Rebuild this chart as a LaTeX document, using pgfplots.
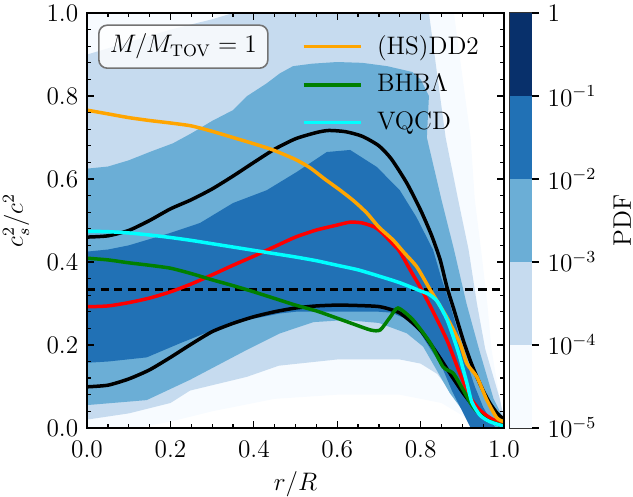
\documentclass[border=0pt,12pt]{standalone}
\usepackage{pgfplots}
\pgfplotsset{compat=1.18}
\definecolor{cA}{HTML}{F7FBFF}
\definecolor{cB}{HTML}{C6DBEF}
\definecolor{cC}{HTML}{6BAED6}
\definecolor{cD}{HTML}{2171B5}
\definecolor{cE}{HTML}{08306B}
\definecolor{mplorange}{HTML}{FFA500}
\definecolor{mplgreen}{HTML}{008000}
\definecolor{mplcyan}{HTML}{00FFFF}
\definecolor{mplred}{HTML}{FF0000}
\begin{document}
\begin{tikzpicture}
\begin{axis}[
  name=main, at={(0pt,0pt)}, anchor=south west,
  scale only axis, width=197.8pt, height=196.8pt,
  xmin=0, xmax=1, ymin=0, ymax=1,
  xtick={0,0.2,0.4,0.6,0.8,1.0}, ytick={0,0.2,0.4,0.6,0.8,1.0},
  minor x tick num=3, minor y tick num=4,
  tick align=inside, major tick length=3.3pt, minor tick length=1.9pt,
  every tick/.style={black, line width=0.6pt},
  axis line style={line width=0.76pt},
  /pgf/number format/fixed, /pgf/number format/fixed zerofill, /pgf/number format/precision=1,
  xticklabel shift=2pt,
  xlabel={$r/R$}, ylabel={$c_s^2/c^2$},
  xlabel style={yshift=1.5pt},
  axis on top,
  legend cell align=left,
  legend style={at={(rel axis cs:0.499,0.963)}, anchor=north west, draw=none, fill=none,
    row sep=5.8pt, nodes={inner sep=1pt},
    /tikz/every odd column/.append style={column sep=6pt}},
  legend image code/.code={\draw[#1] (0pt,0pt) -- (27pt,0pt);},
]
% density bands
\addplot[fill=cA, draw=none, forget plot] coordinates {
 (0,0)(0,1)(0.88,1)(0.90,0.85)(0.92,0.70)(0.93,0.55)(0.945,0.43)(0.96,0.30)(0.97,0.19)(0.99,0.07)(1,0.03)(1,0)
 (0.93,0)(0.9,0.03)(0.85,0.06)(0.75,0.08)(0.6,0.08)(0.45,0.07)(0.3,0.04)(0.2,0.015)(0.12,0)} --cycle;
\addplot[fill=cB, draw=none, forget plot] coordinates {
 (0,0.90)(0.1,0.93)(0.2,0.96)(0.3,0.985)(0.35,1.0)(0.82,1.0)(0.84,0.85)(0.86,0.70)(0.89,0.55)(0.915,0.43)(0.935,0.30)(0.955,0.19)(0.99,0.07)(1,0.02)(1,0)
 (0.95,0)(0.93,0.015)(0.9,0.05)(0.87,0.09)(0.84,0.13)(0.8,0.155)(0.75,0.165)(0.6,0.165)(0.46,0.15)(0.383,0.123)(0.247,0.09)(0.2,0.06)(0.1,0.035)(0,0.02)} --cycle;
\addplot[fill=cC, draw=none, forget plot] coordinates {
 (0,0.625)(0.05,0.63)(0.1,0.645)(0.15,0.665)(0.206,0.686)(0.25,0.71)(0.3,0.74)(0.35,0.766)(0.384,0.80)(0.43,0.83)(0.463,0.855)(0.494,0.872)(0.54,0.878)(0.6,0.882)(0.66,0.88)(0.72,0.872)(0.78,0.858)(0.80,0.84)(0.82,0.80)
 (0.815,0.70)(0.85,0.55)(0.88,0.43)(0.91,0.30)(0.94,0.19)(0.975,0.07)(1,0.02)(1,0)
 (0.93,0)(0.918,0.02)(0.895,0.05)(0.87,0.084)(0.838,0.14)(0.806,0.196)(0.767,0.228)(0.70,0.253)(0.62,0.26)(0.543,0.255)(0.463,0.228)(0.383,0.188)(0.247,0.116)(0.143,0.067)(0,0.055)} --cycle;
\addplot[fill=cD, draw=none, forget plot] coordinates {
 (0,0.425)(0.05,0.43)(0.1,0.44)(0.15,0.455)(0.2,0.47)(0.271,0.494)(0.35,0.542)(0.431,0.573)(0.503,0.617)(0.575,0.665)(0.631,0.670)(0.695,0.629)(0.75,0.573)(0.79,0.508)(0.83,0.429)
 (0.85,0.36)(0.87,0.30)(0.89,0.23)(0.91,0.16)(0.93,0.10)(0.95,0.05)(0.97,0.015)(0.98,0)
 (0.92,0)(0.9,0.04)(0.875,0.09)(0.85,0.15)(0.825,0.188)(0.8,0.228)(0.767,0.262)(0.73,0.278)(0.7,0.28)(0.6,0.28)(0.5,0.28)(0.463,0.276)(0.383,0.26)(0.302,0.236)(0.223,0.204)(0.143,0.17)(0.05,0.16)(0,0.157)} --cycle;
% reference line
\addplot[black, dashed, dash pattern=on 4pt off 2.4pt, line width=1.1pt, forget plot] coordinates {(0,0.3333)(1,0.3333)};
% envelopes
\addplot[black, line width=1.66pt, smooth, tension=0.4, forget plot] coordinates {
 (0,0.460)(0.05,0.463)(0.1,0.476)(0.15,0.500)(0.2,0.528)(0.25,0.550)(0.3,0.576)(0.35,0.607)(0.4,0.640)(0.45,0.672)(0.5,0.697)(0.55,0.712)(0.58,0.717)(0.62,0.714)(0.66,0.703)(0.70,0.680)(0.73,0.648)(0.767,0.590)(0.80,0.525)(0.826,0.465)(0.847,0.405)(0.863,0.340)(0.88,0.285)(0.902,0.212)(0.92,0.160)(0.935,0.123)(0.95,0.090)(0.966,0.060)(0.983,0.036)(1.0,0.020)};
\addplot[black, line width=1.66pt, smooth, tension=0.4, forget plot] coordinates {
 (0,0.099)(0.05,0.103)(0.10,0.118)(0.15,0.140)(0.20,0.170)(0.25,0.202)(0.30,0.232)(0.35,0.252)(0.40,0.268)(0.45,0.280)(0.50,0.289)(0.55,0.294)(0.60,0.296)(0.65,0.295)(0.703,0.292)(0.75,0.277)(0.799,0.236)(0.839,0.180)(0.87,0.132)(0.902,0.084)(0.935,0.043)(0.974,0.014)(1.0,0.004)};
% median
\addplot[mplred, line width=1.66pt, smooth, tension=0.4, forget plot] coordinates {
 (0,0.292)(0.05,0.294)(0.10,0.302)(0.15,0.313)(0.20,0.328)(0.25,0.347)(0.30,0.369)(0.35,0.392)(0.40,0.414)(0.45,0.437)(0.50,0.460)(0.55,0.477)(0.60,0.489)(0.631,0.496)(0.66,0.494)(0.69,0.484)(0.71,0.468)(0.73,0.447)(0.75,0.425)(0.78,0.372)(0.80,0.338)(0.83,0.280)(0.863,0.212)(0.894,0.132)(0.918,0.075)(0.942,0.043)(0.97,0.022)(1.0,0.009)};
% models
\addplot[mplorange, line width=1.66pt, smooth, tension=0.4] coordinates {
 (0,0.766)(0.05,0.757)(0.1,0.748)(0.15,0.741)(0.2,0.735)(0.25,0.728)(0.3,0.715)(0.35,0.700)(0.4,0.685)(0.446,0.670)(0.5,0.647)(0.535,0.627)(0.57,0.600)(0.607,0.573)(0.64,0.547)(0.671,0.518)(0.70,0.484)(0.734,0.453)(0.76,0.423)(0.791,0.388)(0.823,0.333)(0.862,0.268)(0.894,0.205)(0.911,0.155)(0.935,0.123)(0.959,0.067)(0.983,0.024)(1.0,0.015)};
\addlegendentry{(HS)DD2}
\addplot[mplgreen, line width=1.66pt, smooth, tension=0.4] coordinates {
 (0,0.409)(0.05,0.405)(0.1,0.398)(0.15,0.392)(0.2,0.385)(0.25,0.372)(0.3,0.357)(0.35,0.343)(0.4,0.328)(0.45,0.312)(0.5,0.296)(0.55,0.282)(0.59,0.268)(0.64,0.250)(0.68,0.236)(0.703,0.236)(0.727,0.267)(0.746,0.289)(0.782,0.260)(0.823,0.205)(0.854,0.147)(0.878,0.132)(0.902,0.092)(0.926,0.050)(0.959,0.019)(1.0,0.005)};
\addlegendentry{BHB$\Lambda$}
\addplot[mplcyan, line width=1.66pt, smooth, tension=0.4] coordinates {
 (0,0.474)(0.05,0.473)(0.1,0.470)(0.15,0.465)(0.2,0.459)(0.25,0.452)(0.3,0.444)(0.35,0.436)(0.4,0.428)(0.45,0.420)(0.5,0.412)(0.55,0.403)(0.6,0.392)(0.65,0.381)(0.7,0.366)(0.75,0.350)(0.8,0.330)(0.82,0.322)(0.84,0.305)(0.863,0.262)(0.88,0.215)(0.894,0.171)(0.911,0.108)(0.923,0.062)(0.942,0.031)(0.96,0.018)(0.974,0.012)(1.0,0.004)};
\addlegendentry{VQCD}
\node[draw=black!55, rounded corners=4pt, fill=white, fill opacity=0.8, text opacity=1, line width=0.75pt,
  minimum width=80.2pt, minimum height=20.4pt, inner sep=0pt] at (rel axis cs:0.231,0.919) {$M/M_{\mathrm{TOV}} = 1$};
\end{axis}
\begin{axis}[
  at={(200.6pt,0pt)}, anchor=south west,
  scale only axis, width=10.4pt, height=196.8pt,
  xmin=0, xmax=1, ymode=log, ymin=1e-5, ymax=1,
  xtick=\empty, ytick={1e-5,1e-4,1e-3,1e-2,1e-1,1},
  yticklabels={$10^{-5}$,$10^{-4}$,$10^{-3}$,$10^{-2}$,$10^{-1}$,$1$},
  yminorticks=false,
  ytick pos=right, yticklabel pos=right, tick align=outside,
  major tick length=3.3pt, every tick/.style={black, line width=0.6pt},
  axis line style={draw=black!80, line width=0.6pt},
  ylabel={PDF}, ylabel near ticks,
]
\addplot[fill=cA, draw=none] coordinates {(0,1e-5)(1,1e-5)(1,1e-4)(0,1e-4)} --cycle;
\addplot[fill=cB, draw=none] coordinates {(0,1e-4)(1,1e-4)(1,1e-3)(0,1e-3)} --cycle;
\addplot[fill=cC, draw=none] coordinates {(0,1e-3)(1,1e-3)(1,1e-2)(0,1e-2)} --cycle;
\addplot[fill=cD, draw=none] coordinates {(0,1e-2)(1,1e-2)(1,1e-1)(0,1e-1)} --cycle;
\addplot[fill=cE, draw=none] coordinates {(0,1e-1)(1,1e-1)(1,1)(0,1)} --cycle;
\end{axis}
\pgfresetboundingbox
\path[use as bounding box] (-41.3pt,-32.7pt) rectangle (259.0pt,203.0pt);
\end{tikzpicture}
\end{document}
